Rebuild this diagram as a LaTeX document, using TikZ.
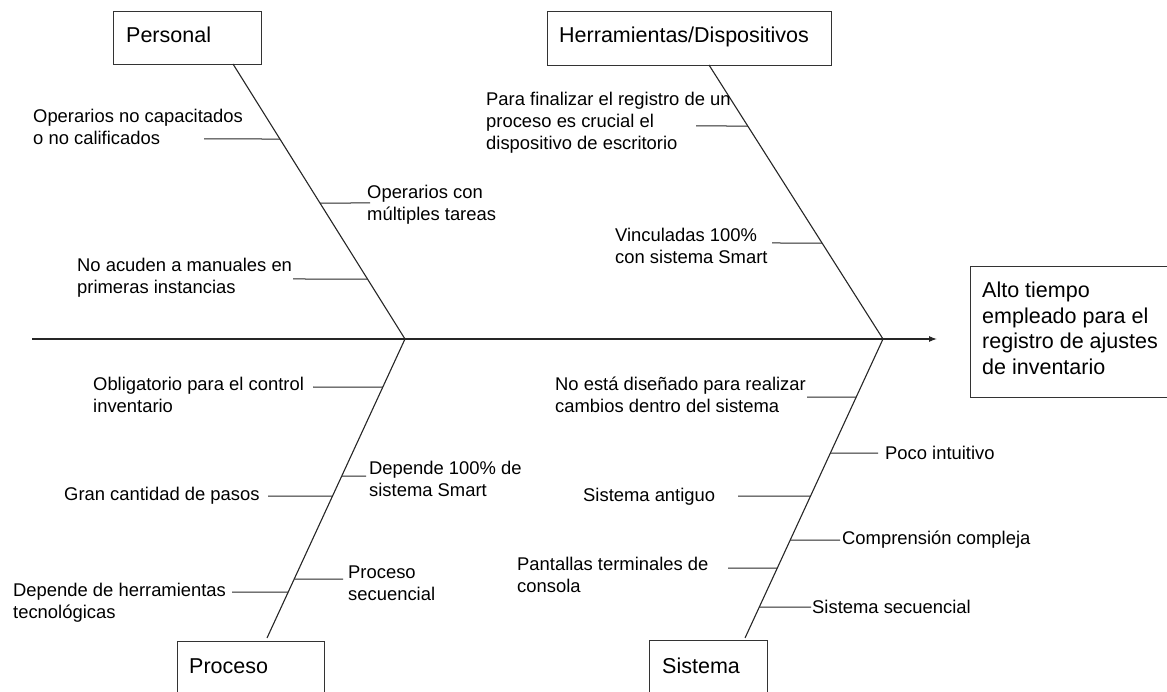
\documentclass[tikz,border=0pt]{standalone}
\usepackage{fontspec}
\setmainfont{Liberation Sans}
\usetikzlibrary{arrows.meta}

% one horizontal cause line: #1 name, #2--#3 the bone it meets, #4 height, #5 free end x
\newcommand\causeline[5]{%
  \coordinate (#1-r) at (intersection of #2--#3 and 0,#4--1,#4);
  \coordinate (#1-f) at (#5,#4);
  \draw[twig] (#1-f) -- (#1-r);}

\begin{document}
\begin{tikzpicture}[x=1pt,y=-1pt,
  bone/.style={draw=black!85, line width=1.1pt},
  twig/.style={draw=black!85, line width=1pt},
  catbox/.style={draw=black!80, line width=1.2pt, rectangle, inner sep=0pt, anchor=north west},
  % multi-line labels are placed by the baseline of their last line
  lbl/.style={inner sep=0pt, align=left, anchor=base west, font=\fontsize{18.4}{22}\selectfont},
  ttl/.style={inner sep=0pt, anchor=base west, font=\fontsize{21.5}{25}\selectfont},
  effect/.style={inner sep=0pt, align=left, anchor=base west, font=\fontsize{21.5}{25.4}\selectfont}]
\useasboundingbox (0,0) rectangle (1167,692);

% category boxes
\node[catbox, minimum width=148pt, minimum height=53pt] (personal) at (113,11) {};
\node[catbox, minimum width=284pt, minimum height=54pt] (herram) at (547,11) {};
\node[catbox, minimum width=147pt, minimum height=70pt] (proceso) at (177,641) {};
\node[catbox, minimum width=118pt, minimum height=70pt] (sistema) at (649,640) {};
\node[catbox, minimum width=210pt, minimum height=131pt] (effectbox) at (970,266) {};

\node[ttl] (personalT) at (126,43) {Personal};
\node[ttl] (herramT) at (559,43) {Herramientas/Dispositivos};
\node[ttl] (procesoT) at (189,673) {Proceso};
\node[ttl] (sistemaT) at (662,673) {Sistema};
\node[effect] (effectT) at (982,374) {Alto tiempo\\empleado para el\\registro de ajustes\\de inventario};

% spine and main bones
\coordinate (tail) at (32,339);
\coordinate (head) at (937,339);
\coordinate (j1) at (405,339);
\coordinate (j2) at (883,339);
\coordinate (pT) at (233,64);
\coordinate (hT) at (709,65);
\coordinate (prB) at (267,638);
\coordinate (sB) at (745,638);

\draw[bone, -{Latex[length=8pt,width=6pt]}] (tail) -- (head);
\draw[bone] (pT) -- (j1) -- (prB);
\draw[bone] (hT) -- (j2) -- (sB);

% Personal
\causeline{pa}{pT}{j1}{139}{204}
\causeline{pb}{pT}{j1}{203}{370}
\causeline{pc}{pT}{j1}{279}{293}
\node[lbl] (pal) at (33,145) {Operarios no capacitados\\o no calificados};
\node[lbl] (pbl) at (367,221) {Operarios con\\múltiples tareas};
\node[lbl] (pcl) at (77,294) {No acuden a manuales en\\primeras instancias};

% Herramientas/Dispositivos
\causeline{ha}{hT}{j2}{126}{696}
\causeline{hb}{hT}{j2}{243}{772}
\node[lbl] (hal) at (486,150) {Para finalizar el registro de un\\proceso es crucial el\\dispositivo de escritorio};
\node[lbl] (hbl) at (615,264) {Vinculadas 100\%\\con sistema Smart};

% Proceso
\causeline{ra}{j1}{prB}{387}{313}
\causeline{rb}{j1}{prB}{476}{366}
\causeline{rc}{j1}{prB}{496}{268}
\causeline{rd}{j1}{prB}{579}{343}
\causeline{re}{j1}{prB}{592}{232}
\node[lbl] (ral) at (93,412) {Obligatorio para el control\\inventario};
\node[lbl] (rbl) at (369,496) {Depende 100\% de\\sistema Smart};
\node[lbl] (rcl) at (64,500) {Gran cantidad de pasos};
\node[lbl] (rdl) at (348,600) {Proceso\\secuencial};
\node[lbl] (rel) at (13,618) {Depende de herramientas\\tecnológicas};

% Sistema
\causeline{sa}{j2}{sB}{397}{807}
\causeline{sb}{j2}{sB}{453}{878}
\causeline{sc}{j2}{sB}{496}{738}
\causeline{sd}{j2}{sB}{540}{840}
\causeline{se}{j2}{sB}{568}{728}
\causeline{sf}{j2}{sB}{607}{811}
\node[lbl] (sal) at (555,413) {No está diseñado para realizar\\cambios dentro del sistema};
\node[lbl] (sbl) at (885,459) {Poco intuitivo};
\node[lbl] (scl) at (583,501) {Sistema antiguo};
\node[lbl] (sdl) at (842,544) {Comprensión compleja};
\node[lbl] (sel) at (517,592) {Pantallas terminales de\\consola};
\node[lbl] (sfl) at (812,613) {Sistema secuencial};
\end{tikzpicture}
\end{document}
